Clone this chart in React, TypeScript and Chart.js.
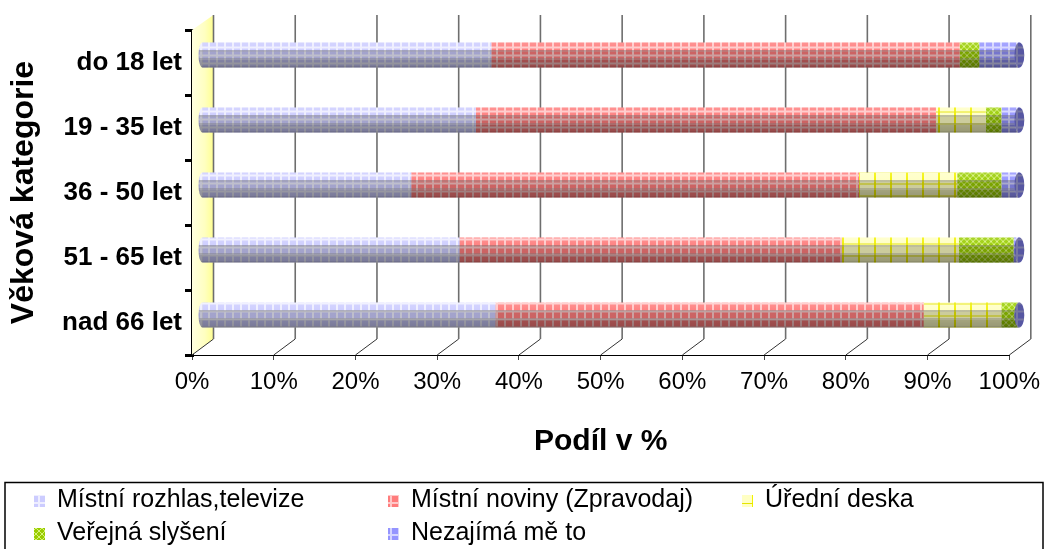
import React, { useEffect, useRef } from 'react';
import { Chart, registerables } from 'chart.js';

Chart.register(...registerables);

// ---- data ----
const categories = ['do 18 let', '19 - 35 let', '36 - 50 let', '51 - 65 let', 'nad 66 let'];
const seriesNames = [
  'Místní rozhlas,televize',
  'Místní noviny (Zpravodaj)',
  'Úřední deska',
  'Veřejná slyšení',
  'Nezajímá mě to',
];
const rozhlas = [35.4, 33.5, 25.6, 31.5, 35.9];
const noviny = [57.3, 56.3, 54.8, 46.8, 52.4];
const deska = [0, 6.1, 12.0, 14.3, 9.5];
const slyseni = [2.4, 1.9, 5.4, 6.7, 2.0];
const nezajima = [4.9, 2.2, 2.2, 0.7, 0.2];
const xTitle = 'Podíl v %';
const yTitle = 'Věková kategorie';

const FONT = '"Liberation Sans", Arial, sans-serif';

// 3D geometry (depth offsets)
const BAR_DX = 10;
const BAR_DY = -7.5;
const WALL_DX = 21.5;
const WALL_DY = -16;

function makeTile(w: number, h: number, draw: (c: CanvasRenderingContext2D) => void) {
  const cv = document.createElement('canvas');
  cv.width = w;
  cv.height = h;
  const c = cv.getContext('2d') as CanvasRenderingContext2D;
  draw(c);
  return cv;
}

function gridPattern(ctx: CanvasRenderingContext2D, base: string, line: string) {
  const tile = makeTile(8, 8, (c) => {
    c.fillStyle = base;
    c.fillRect(0, 0, 8, 8);
    c.fillStyle = line;
    c.fillRect(6, 0, 2, 8);
    c.fillRect(0, 6, 8, 2);
  });
  return ctx.createPattern(tile, 'repeat') as CanvasPattern;
}

function yellowPattern(ctx: CanvasRenderingContext2D) {
  const tile = makeTile(16, 12, (c) => {
    c.fillStyle = '#ffffc4';
    c.fillRect(0, 0, 16, 12);
    c.fillStyle = '#f2f200';
    c.fillRect(0, 0, 2, 12);
    c.fillStyle = '#e4e400';
    c.fillRect(0, 11, 16, 1);
  });
  return ctx.createPattern(tile, 'repeat') as CanvasPattern;
}

function greenPattern(ctx: CanvasRenderingContext2D) {
  const tile = makeTile(6, 6, (c) => {
    c.fillStyle = '#99cc00';
    c.fillRect(0, 0, 6, 6);
    c.strokeStyle = '#d6f27a';
    c.lineWidth = 1;
    c.beginPath();
    c.moveTo(0, 0);
    c.lineTo(6, 6);
    c.moveTo(6, 0);
    c.lineTo(0, 6);
    c.stroke();
  });
  return ctx.createPattern(tile, 'repeat') as CanvasPattern;
}

function shadeGradient(ctx: CanvasRenderingContext2D, top: number, bottom: number) {
  const g = ctx.createLinearGradient(0, top, 0, bottom);
  g.addColorStop(0, 'rgba(255,255,255,0.18)');
  g.addColorStop(0.31, 'rgba(255,255,255,0.05)');
  g.addColorStop(0.32, 'rgba(110,110,110,0.45)');
  g.addColorStop(0.37, 'rgba(110,110,110,0.45)');
  g.addColorStop(0.38, 'rgba(0,0,0,0.2)');
  g.addColorStop(0.63, 'rgba(0,0,0,0.2)');
  g.addColorStop(0.64, 'rgba(90,90,90,0.5)');
  g.addColorStop(0.69, 'rgba(90,90,90,0.5)');
  g.addColorStop(0.7, 'rgba(0,0,0,0.36)');
  g.addColorStop(0.94, 'rgba(0,0,0,0.4)');
  g.addColorStop(1, 'rgba(0,0,0,0.55)');
  return g;
}

const wallPlugin = {
  id: 'wall3d',
  beforeDatasetsDraw(chart: any) {
    const { ctx, chartArea, scales } = chart;
    const xs = scales.x;
    const L = chartArea.left;
    const T = chartArea.top;
    const B = chartArea.bottom;
    ctx.save();
    // yellow side wall
    const g = ctx.createLinearGradient(L, 0, L + WALL_DX, 0);
    g.addColorStop(0, '#ffffe0');
    g.addColorStop(0.6, '#ffffc0');
    g.addColorStop(1, '#ffff90');
    ctx.fillStyle = g;
    ctx.beginPath();
    ctx.moveTo(L, B);
    ctx.lineTo(L + WALL_DX, B + WALL_DY);
    ctx.lineTo(L + WALL_DX, T + WALL_DY + 1);
    ctx.lineTo(L, T);
    ctx.closePath();
    ctx.fill();
    // back wall gridlines + floor diagonals
    xs.ticks.forEach((t: any) => {
      const xf = xs.getPixelForValue(t.value);
      ctx.strokeStyle = '#333';
      ctx.lineWidth = 1;
      ctx.beginPath();
      ctx.moveTo(xf, B);
      ctx.lineTo(xf + WALL_DX, B + WALL_DY);
      ctx.stroke();
      ctx.strokeStyle = '#6e6e6e';
      ctx.lineWidth = 1.6;
      ctx.beginPath();
      ctx.moveTo(xf + WALL_DX, B + WALL_DY);
      ctx.lineTo(xf + WALL_DX, T + WALL_DY + 1);
      ctx.stroke();
    });
    ctx.restore();
    // shift bars to mid depth
    ctx.save();
    ctx.translate(BAR_DX, BAR_DY);
  },
  afterDatasetsDraw(chart: any) {
    const { ctx } = chart;
    const n = chart.data.labels.length;
    const dsets = chart.data.datasets;
    for (let i = 0; i < n; i++) {
      let x0 = Infinity;
      let x1 = -Infinity;
      let yc = 0;
      let h = 0;
      let firstDs = -1;
      let lastDs = -1;
      dsets.forEach((ds: any, di: number) => {
        const el = chart.getDatasetMeta(di).data[i] as any;
        if (!el) return;
        const p = el.getProps(['x', 'y', 'base', 'height'], true);
        yc = p.y;
        h = p.height;
        if (ds.data[i] > 0) {
          if (firstDs < 0) firstDs = di;
          lastDs = di;
        }
        x0 = Math.min(x0, p.base, p.x);
        x1 = Math.max(x1, p.base, p.x);
      });
      const top = yc - h / 2;
      const bot = yc + h / 2;
      // left cap
      ctx.save();
      ctx.fillStyle = dsets[firstDs].backgroundColor;
      ctx.beginPath();
      ctx.ellipse(x0, yc, 4, h / 2, 0, Math.PI / 2, (Math.PI * 3) / 2);
      ctx.closePath();
      ctx.fill();
      // shading of body
      ctx.beginPath();
      ctx.ellipse(x0, yc, 4, h / 2, 0, Math.PI / 2, (Math.PI * 3) / 2);
      ctx.lineTo(x1, top);
      ctx.lineTo(x1, bot);
      ctx.closePath();
      ctx.fillStyle = shadeGradient(ctx, top, bot);
      ctx.fill();
      // right cap
      ctx.beginPath();
      ctx.ellipse(x1, yc, 5, h / 2, 0, 0, Math.PI * 2);
      ctx.fillStyle = dsets[lastDs].backgroundColor;
      ctx.fill();
      ctx.fillStyle = 'rgba(25,25,70,0.5)';
      ctx.fill();
      ctx.restore();
    }
    ctx.restore();
  },
};

const legendPlugin = {
  id: 'boxLegend',
  afterDraw(chart: any) {
    const { ctx } = chart;
    const cols = [34, 388, 742];
    const rows = [500, 533];
    ctx.save();
    ctx.strokeStyle = '#000';
    ctx.lineWidth = 1.5;
    ctx.strokeRect(5, 482.5, 1038, 120);
    ctx.font = `25px ${FONT}`;
    ctx.textBaseline = 'middle';
    ctx.textAlign = 'left';
    chart.data.datasets.forEach((ds: any, i: number) => {
      const cx = cols[i % 3];
      const cy = rows[Math.floor(i / 3)];
      ctx.fillStyle = ds.backgroundColor;
      ctx.fillRect(cx, cy - 5, 11, 12);
      ctx.fillStyle = '#000';
      ctx.fillText(ds.label, cx + 23, cy);
    });
    ctx.restore();
  },
};

export default function App() {
  const ref = useRef<HTMLCanvasElement | null>(null);
  useEffect(() => {
    const canvas = ref.current;
    if (!canvas) return;
    const ctx = canvas.getContext('2d') as CanvasRenderingContext2D;
    const fills = [
      gridPattern(ctx, '#ccccff', '#eeeeff'),
      gridPattern(ctx, '#ff7c7c', '#ffc8c8'),
      yellowPattern(ctx),
      greenPattern(ctx),
      gridPattern(ctx, '#9494ff', '#d4d4ff'),
    ];
    const values = [rozhlas, noviny, deska, slyseni, nezajima];
    const chart = new Chart(canvas, {
      type: 'bar',
      data: {
        labels: categories,
        datasets: values.map((v, i) => ({
          label: seriesNames[i],
          data: v,
          backgroundColor: fills[i] as any,
          borderWidth: 0,
          barPercentage: 0.385,
          categoryPercentage: 1,
        })),
      },
      options: {
        indexAxis: 'y',
        responsive: false,
        animation: false,
        events: [],
        layout: { padding: { left: 0, right: 35, top: 30, bottom: 79 } },
        plugins: {
          legend: { display: false },
          tooltip: { enabled: false },
          title: { display: false },
        },
        scales: {
          x: {
            stacked: true,
            min: 0,
            max: 100,
            position: 'bottom',
            afterFit: (s: any) => {
              s.height = 115;
            },
            ticks: {
              stepSize: 10,
              callback: (v: any) => `${v}%`,
              color: '#000',
              font: { family: FONT, size: 24 },
              padding: 8,
              maxRotation: 0,
              autoSkip: false,
            },
            grid: {
              drawOnChartArea: false,
              drawTicks: true,
              tickLength: 5,
              color: '#444',
              lineWidth: 1,
            },
            border: { display: true, color: '#000', width: 1 },
            title: {
              display: true,
              text: xTitle,
              color: '#000',
              font: { family: FONT, size: 30, weight: 'bold' },
              padding: { top: 0, bottom: 10 },
            },
          },
          y: {
            stacked: true,
            position: 'left',
            offset: true,
            afterFit: (s: any) => {
              s.width = 192;
            },
            ticks: {
              color: '#000',
              font: { family: FONT, size: 26, weight: 'bold' },
              padding: 3,
            },
            grid: {
              offset: true,
              drawOnChartArea: false,
              drawTicks: true,
              tickLength: 7,
              color: '#000',
              lineWidth: 3,
            },
            border: { display: true, color: '#000', width: 3 },
            title: {
              display: true,
              text: yTitle,
              color: '#000',
              font: { family: FONT, size: 32, weight: 'bold' },
              padding: { top: 5, bottom: 0 },
            },
          },
        },
      } as any,
      plugins: [wallPlugin, legendPlugin],
    });
    return () => chart.destroy();
  }, []);
  return (
    <div style={{ position: 'fixed', left: 0, top: 0, width: 1048, height: 549, background: '#fff' }}>
      <canvas ref={ref} width={1048} height={549} style={{ display: 'block', width: 1048, height: 549 }} />
    </div>
  );
}
